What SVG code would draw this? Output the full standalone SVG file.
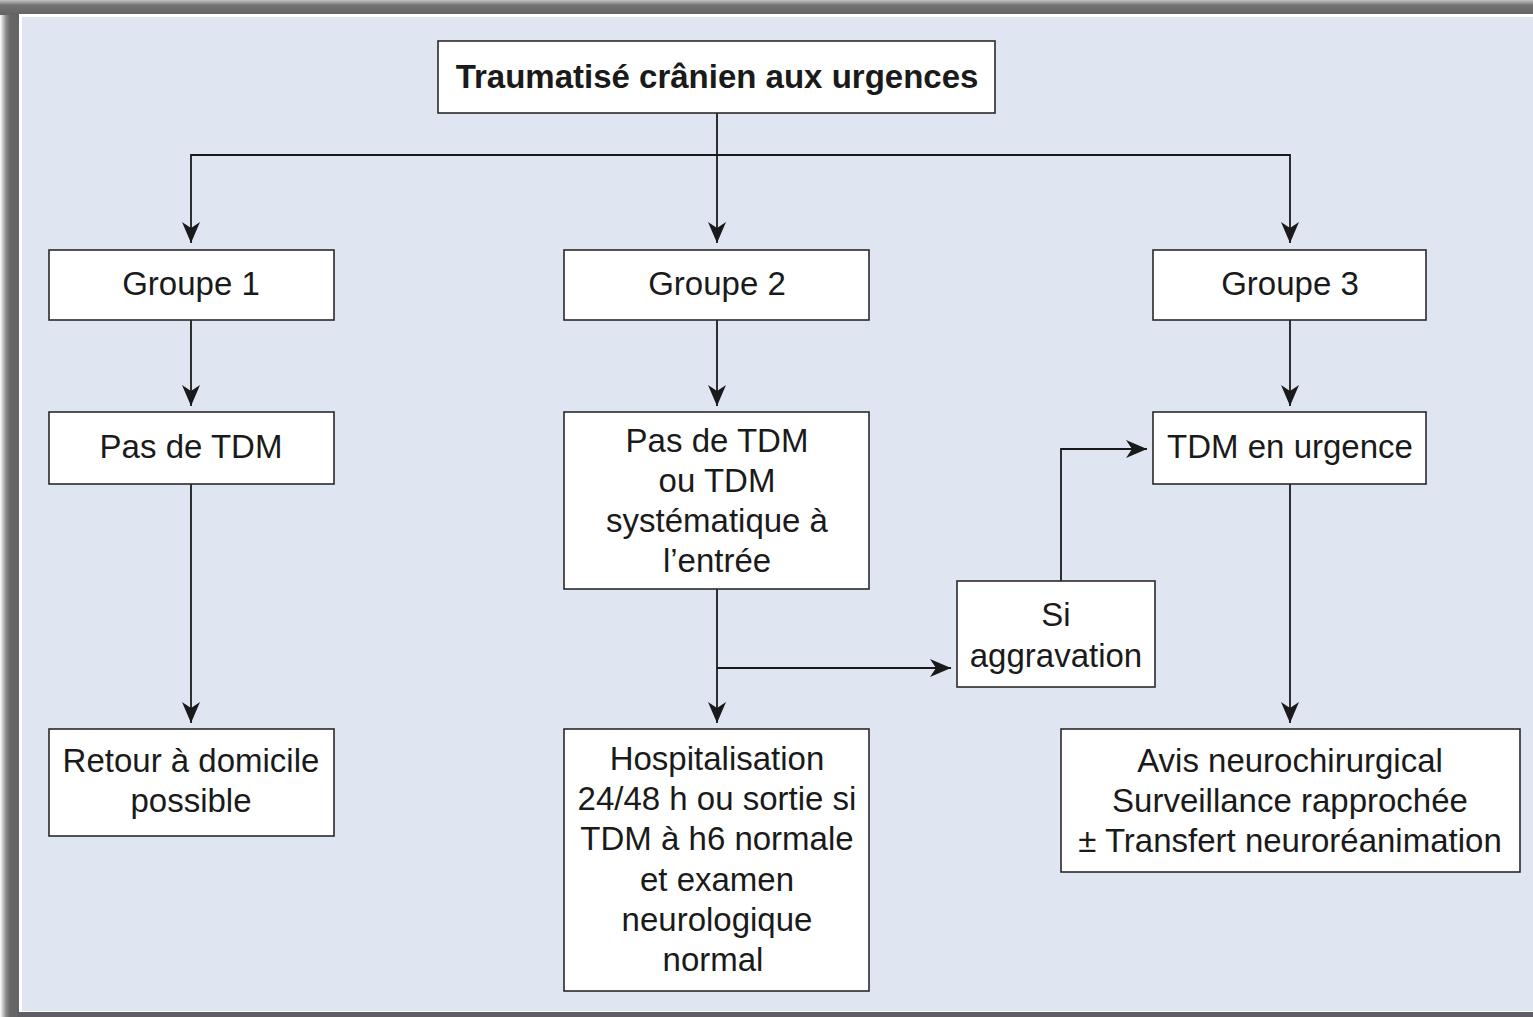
<svg xmlns="http://www.w3.org/2000/svg" width="1533" height="1017" viewBox="0 0 1533 1017">
<defs>
<linearGradient id="topg" x1="0" y1="0" x2="0" y2="1">
<stop offset="0" stop-color="#c4c4c4"/>
<stop offset="0.35" stop-color="#727272"/>
<stop offset="1" stop-color="#636363"/>
</linearGradient>
<linearGradient id="leftg" x1="0" y1="0" x2="1" y2="0">
<stop offset="0" stop-color="#ffffff"/>
<stop offset="0.3" stop-color="#8c8c8c"/>
<stop offset="0.5" stop-color="#666666"/>
<stop offset="1" stop-color="#646464"/>
</linearGradient>
<marker id="ah" viewBox="-22 -10 24 20" markerWidth="24" markerHeight="20" refX="0" refY="0" orient="auto" markerUnits="userSpaceOnUse">
<path d="M0,0 L-21,-9 L-15,0 L-21,9 Z" fill="#1a1a1a"/>
</marker>
<style>
.box{fill:#ffffff;stroke:#2a2a2a;stroke-width:1.6}
.t{font-family:"Liberation Sans",Arial,sans-serif;font-size:33px;fill:#1a1a1a;text-anchor:middle}
.tb{font-weight:bold}
.c{fill:none;stroke:#1a1a1a;stroke-width:1.8}
.ca{fill:none;stroke:#1a1a1a;stroke-width:1.8;marker-end:url(#ah)}
</style>
</defs>
<rect x="0" y="0" width="1533" height="1017" fill="#ffffff"/>
<rect x="0" y="0" width="20" height="1017" fill="url(#leftg)"/>
<rect x="0" y="0" width="1533" height="15" fill="url(#topg)"/>
<rect x="18" y="1011" width="1515" height="6" fill="#5e5e64"/>
<rect x="19" y="14" width="1514" height="998" fill="#ffffff"/>
<rect x="22" y="17" width="1511" height="994" fill="#e0e5f2"/>

<g id="connectors">
<line class="ca" x1="717" y1="113" x2="717" y2="243"/>
<polyline class="ca" points="717,155 191,155 191,243"/>
<polyline class="ca" points="717,155 1290,155 1290,243"/>
<line class="ca" x1="191" y1="320" x2="191" y2="406"/>
<line class="ca" x1="717" y1="320" x2="717" y2="406"/>
<line class="ca" x1="1290" y1="320" x2="1290" y2="406"/>
<line class="ca" x1="191" y1="484" x2="191" y2="723"/>
<line class="ca" x1="717" y1="589" x2="717" y2="723"/>
<line class="ca" x1="1290" y1="484" x2="1290" y2="723"/>
<polyline class="ca" points="717,668 951,668"/>
<polyline class="ca" points="1061,581 1061,449 1147,449"/>
</g>

<g id="n-top">
<rect class="box" x="438" y="41" width="557" height="72"/>
<text class="t tb" x="717" y="88">Traumatisé crânien aux urgences</text>
</g>
<g id="n-g1">
<rect class="box" x="49" y="250" width="285" height="70"/>
<text class="t" x="191" y="295">Groupe 1</text>
</g>
<g id="n-g2">
<rect class="box" x="564" y="250" width="305" height="70"/>
<text class="t" x="717" y="295">Groupe 2</text>
</g>
<g id="n-g3">
<rect class="box" x="1153" y="250" width="273" height="70"/>
<text class="t" x="1290" y="295">Groupe 3</text>
</g>
<g id="n-pas1">
<rect class="box" x="49" y="412" width="285" height="72"/>
<text class="t" x="191" y="458">Pas de TDM</text>
</g>
<g id="n-pas2">
<rect class="box" x="564" y="412" width="305" height="177"/>
<text class="t" x="717" y="452">Pas de TDM</text>
<text class="t" x="717" y="492">ou TDM</text>
<text class="t" x="717" y="532">systématique à</text>
<text class="t" x="717" y="572">l’entrée</text>
</g>
<g id="n-tdm">
<rect class="box" x="1153" y="412" width="273" height="72"/>
<text class="t" x="1290" y="458">TDM en urgence</text>
</g>
<g id="n-si">
<rect class="box" x="957" y="581" width="198" height="106"/>
<text class="t" x="1056" y="626">Si</text>
<text class="t" x="1056" y="667">aggravation</text>
</g>
<g id="n-retour">
<rect class="box" x="49" y="729" width="285" height="107"/>
<text class="t" x="191" y="772">Retour à domicile</text>
<text class="t" x="191" y="812">possible</text>
</g>
<g id="n-hosp">
<rect class="box" x="564" y="729" width="305" height="262"/>
<text class="t" x="717" y="770">Hospitalisation</text>
<text class="t" x="717" y="810">24/48 h ou sortie si</text>
<text class="t" x="717" y="850">TDM à h6 normale</text>
<text class="t" x="717" y="891">et examen</text>
<text class="t" x="717" y="931">neurologique</text>
<text class="t" x="713" y="971">normal</text>
</g>
<g id="n-avis">
<rect class="box" x="1061" y="729" width="459" height="143"/>
<text class="t" x="1290" y="772">Avis neurochirurgical</text>
<text class="t" x="1290" y="812">Surveillance rapprochée</text>
<text class="t" x="1290" y="852">± Transfert neuroréanimation</text>
</g>
</svg>
